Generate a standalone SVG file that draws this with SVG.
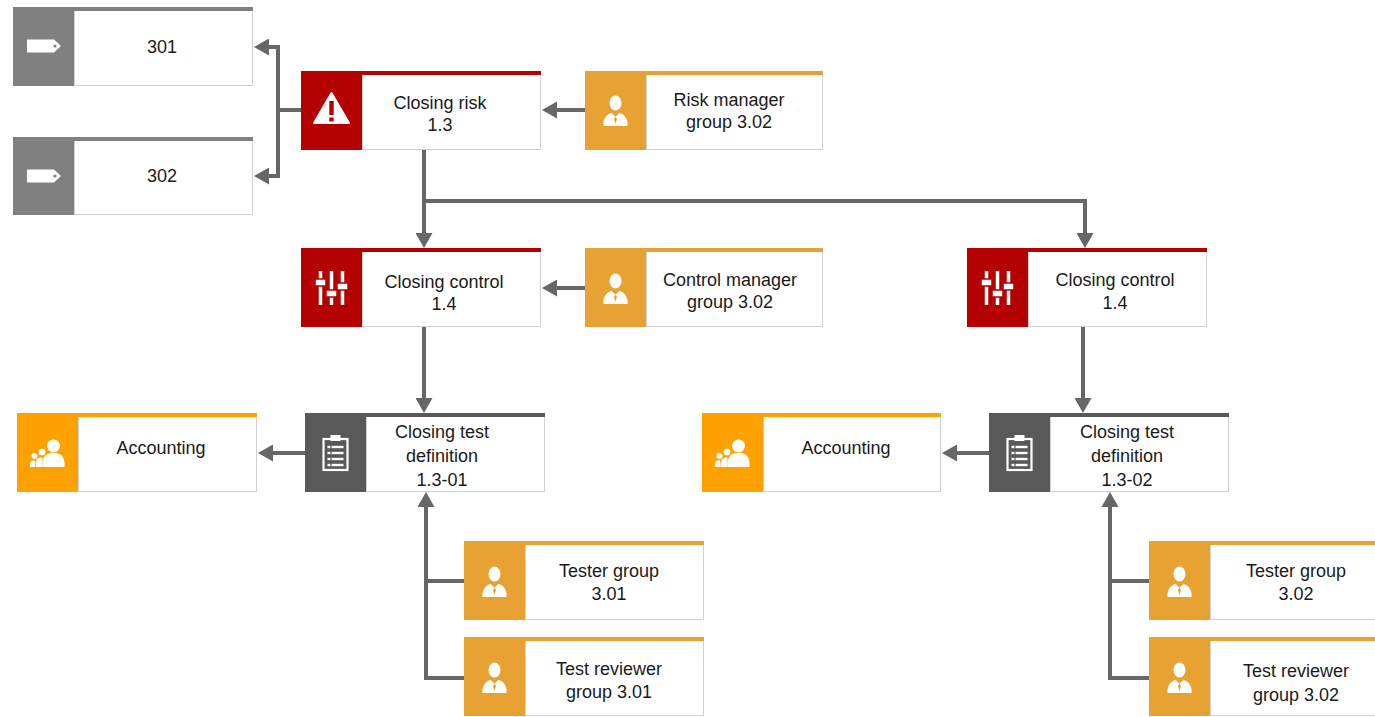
<svg xmlns="http://www.w3.org/2000/svg" width="1375" height="717" viewBox="0 0 1375 717">
<style>
.conn{fill:none;stroke:#676767;stroke-width:4}
.txt{font-family:"Liberation Sans",Arial,sans-serif;font-size:18px;fill:#1a1a1a;text-anchor:middle}
.body{fill:#fff;stroke:#d2d2d2;stroke-width:1}
.red{fill:#b40000}
.org{fill:#e8a233}
.acc{fill:#ffa200}
.gry{fill:#808080}
.dgr{fill:#595959}
.w{fill:#fff}
</style>
<defs>
<marker id="arr" markerUnits="userSpaceOnUse" markerWidth="15" markerHeight="17" viewBox="0 0 15 17" refX="7" refY="8.5" orient="auto">
<path d="M0,0 L15,8.5 L0,17 Z" fill="#676767"/>
</marker>
<g id="i-tag"><path d="M-17,-6.5 H10 L17,0 L10,6.5 H-17 Z" fill="#fff"/><circle cx="11" cy="0" r="1.6" fill="#808080"/></g>
<g id="i-warn"><path d="M0,-15 L17.5,15 L-17.5,15 Z" fill="#fff" stroke="#fff" stroke-width="2" stroke-linejoin="round"/><rect x="-2.2" y="-7" width="4.4" height="14" fill="#b40000"/><rect x="-2.2" y="9.5" width="4.4" height="4" fill="#b40000"/></g>
<g id="i-slide">
<g stroke="#fff" stroke-width="3.5"><line x1="-11" y1="-17" x2="-11" y2="17"/><line x1="0" y1="-17" x2="0" y2="17"/><line x1="11" y1="-17" x2="11" y2="17"/></g>
<g fill="#fff" stroke="#b40000" stroke-width="1.5"><rect x="-16.5" y="-9" width="11" height="7"/><rect x="-5.5" y="2" width="11" height="7"/><rect x="5.5" y="-5" width="11" height="7"/></g>
</g>
<g id="i-person" transform="scale(1.15)"><ellipse cx="0" cy="-7" rx="5.2" ry="6.5" fill="#fff"/><path d="M-10.5,13 L-10.5,10 Q-9.5,3.5 -3.5,1.5 L0,5 L3.5,1.5 Q9.5,3.5 10.5,10 L10.5,13 Z" fill="#fff"/><path d="M0,5 L-1.3,7 L0,11 L1.3,7 Z" fill="#e8a233"/></g>
<g id="i-group" fill="#fff">
<circle cx="6" cy="-6" r="6.5"/><path d="M-5,15 L-5,10 Q-4,2 3,1 L9,1 Q16,2 17,10 L17,15 Z"/>
<circle cx="-5.5" cy="0" r="4" stroke="#ffa200" stroke-width="1"/><path d="M-12,15 L-12,11 Q-11,6 -7,5.5 L-5,5.5 L-5,15 Z"/>
<circle cx="-13" cy="4" r="3"/><path d="M-17.5,15 L-17.5,12 Q-17,8.5 -14.5,8.5 L-12.5,8.5 L-12.5,15 Z"/>
</g>
<g id="i-clip">
<rect x="-12" y="-14" width="24" height="31" fill="none" stroke="#fff" stroke-width="2.2"/>
<rect x="-5" y="-18" width="10" height="6" fill="#fff"/>
<g stroke="#fff" stroke-width="2.4"><line x1="-8" y1="-6" x2="8" y2="-6"/><line x1="-8" y1="0" x2="8" y2="0"/><line x1="-8" y1="6" x2="8" y2="6"/><line x1="-8" y1="12" x2="8" y2="12"/></g>
<g stroke="#595959" stroke-width="1.2"><line x1="-4.5" y1="-8" x2="-4.5" y2="14"/></g>
</g>
</defs>
<rect width="1375" height="717" fill="#fff"/>

<g id="connectors">
<path class="conn" d="M301,110 H278 V47 H262" marker-end="url(#arr)"/>
<path class="conn" d="M278,110 V176 H262" marker-end="url(#arr)"/>
<path class="conn" d="M585,110 H550" marker-end="url(#arr)"/>
<path class="conn" d="M424,150 V240" marker-end="url(#arr)"/>
<path class="conn" d="M424,201 H1085 V240" marker-end="url(#arr)"/>
<path class="conn" d="M585,288 H550" marker-end="url(#arr)"/>
<path class="conn" d="M424,327 V405" marker-end="url(#arr)"/>
<path class="conn" d="M305,453 H266" marker-end="url(#arr)"/>
<path class="conn" d="M464,678 H426 V500" marker-end="url(#arr)"/>
<path class="conn" d="M464,581 H426"/>
<path class="conn" d="M1083,327 V405" marker-end="url(#arr)"/>
<path class="conn" d="M989,453 H950" marker-end="url(#arr)"/>
<path class="conn" d="M1149,678 H1110 V500" marker-end="url(#arr)"/>
<path class="conn" d="M1149,581 H1110"/>
</g>

<g id="tag301">
<rect class="body" x="74.5" y="7.5" width="178" height="78"/><rect class="gry" x="13" y="7" width="240" height="4"/><rect class="gry" x="13" y="7" width="61" height="79"/>
<use href="#i-tag" x="44" y="46"/>
<text class="txt" x="162" y="53">301</text>
</g>
<g id="tag302">
<rect class="body" x="74.5" y="137.5" width="178" height="77"/><rect class="gry" x="13" y="137" width="240" height="4"/><rect class="gry" x="13" y="137" width="61" height="78"/>
<use href="#i-tag" x="44" y="176"/>
<text class="txt" x="162" y="182">302</text>
</g>
<g id="risk">
<rect class="body" x="362.5" y="71.5" width="178" height="78"/><rect class="red" x="301" y="71" width="240" height="4"/><rect class="red" x="301" y="71" width="61" height="79"/>
<use href="#i-warn" x="331.5" y="108"/>
<text class="txt" x="440" y="109">Closing risk</text><text class="txt" x="440" y="131">1.3</text>
</g>
<g id="riskmgr">
<rect class="body" x="646.5" y="71.5" width="176" height="78"/><rect class="org" x="585" y="71" width="238" height="4"/><rect class="org" x="585" y="71" width="61" height="79"/>
<use href="#i-person" x="615.5" y="111"/>
<text class="txt" x="729" y="106">Risk manager</text><text class="txt" x="729" y="128">group 3.02</text>
</g>
<g id="ctrlL">
<rect class="body" x="362.5" y="248.5" width="178" height="78"/><rect class="red" x="301" y="248" width="240" height="4"/><rect class="red" x="301" y="248" width="61" height="79"/>
<use href="#i-slide" x="331.5" y="288"/>
<text class="txt" x="444" y="288">Closing control</text><text class="txt" x="444" y="310">1.4</text>
</g>
<g id="ctrlmgr">
<rect class="body" x="646.5" y="248.5" width="176" height="78"/><rect class="org" x="585" y="248" width="238" height="4"/><rect class="org" x="585" y="248" width="61" height="79"/>
<use href="#i-person" x="615.5" y="289"/>
<text class="txt" x="730" y="286">Control manager</text><text class="txt" x="730" y="308">group 3.02</text>
</g>
<g id="ctrlR">
<rect class="body" x="1028.5" y="248.5" width="178" height="78"/><rect class="red" x="967" y="248" width="240" height="4"/><rect class="red" x="967" y="248" width="61" height="79"/>
<use href="#i-slide" x="997.5" y="288"/>
<text class="txt" x="1115" y="286">Closing control</text><text class="txt" x="1115" y="309">1.4</text>
</g>
<g id="accL">
<rect class="body" x="78.5" y="413.5" width="178" height="78"/><rect class="acc" x="17" y="413" width="240" height="4"/><rect class="acc" x="17" y="413" width="61" height="79"/>
<use href="#i-group" x="47.5" y="452"/>
<text class="txt" x="161" y="454">Accounting</text>
</g>
<g id="testL">
<rect class="body" x="366.5" y="413.5" width="178" height="78"/><rect class="dgr" x="305" y="413" width="240" height="4"/><rect class="dgr" x="305" y="413" width="61" height="79"/>
<use href="#i-clip" x="335.5" y="453"/>
<text class="txt" x="442" y="438">Closing test</text><text class="txt" x="442" y="462">definition</text><text class="txt" x="442" y="486">1.3-01</text>
</g>
<g id="accR">
<rect class="body" x="763.5" y="413.5" width="177" height="78"/><rect class="acc" x="702" y="413" width="239" height="4"/><rect class="acc" x="702" y="413" width="61" height="79"/>
<use href="#i-group" x="732.5" y="452"/>
<text class="txt" x="846" y="454">Accounting</text>
</g>
<g id="testR">
<rect class="body" x="1050.5" y="413.5" width="178" height="78"/><rect class="dgr" x="989" y="413" width="240" height="4"/><rect class="dgr" x="989" y="413" width="61" height="79"/>
<use href="#i-clip" x="1019.5" y="453"/>
<text class="txt" x="1127" y="438">Closing test</text><text class="txt" x="1127" y="462">definition</text><text class="txt" x="1127" y="486">1.3-02</text>
</g>
<g id="testerL">
<rect class="body" x="525.5" y="541.5" width="178" height="78"/><rect class="org" x="464" y="541" width="240" height="4"/><rect class="org" x="464" y="541" width="61" height="79"/>
<use href="#i-person" x="494.5" y="582"/>
<text class="txt" x="609" y="577">Tester group</text><text class="txt" x="609" y="600">3.01</text>
</g>
<g id="reviewerL">
<rect class="body" x="525.5" y="637.5" width="178" height="78"/><rect class="org" x="464" y="637" width="240" height="4"/><rect class="org" x="464" y="637" width="61" height="79"/>
<use href="#i-person" x="494.5" y="678"/>
<text class="txt" x="609" y="675">Test reviewer</text><text class="txt" x="609" y="698">group 3.01</text>
</g>
<g id="testerR">
<rect class="body" x="1210.5" y="541.5" width="178" height="78"/><rect class="org" x="1149" y="541" width="240" height="4"/><rect class="org" x="1149" y="541" width="61" height="79"/>
<use href="#i-person" x="1179.5" y="582"/>
<text class="txt" x="1296" y="577">Tester group</text><text class="txt" x="1296" y="600">3.02</text>
</g>
<g id="reviewerR">
<rect class="body" x="1210.5" y="637.5" width="178" height="78"/><rect class="org" x="1149" y="637" width="240" height="4"/><rect class="org" x="1149" y="637" width="61" height="79"/>
<use href="#i-person" x="1179.5" y="678"/>
<text class="txt" x="1296" y="677">Test reviewer</text><text class="txt" x="1296" y="701">group 3.02</text>
</g>
</svg>
